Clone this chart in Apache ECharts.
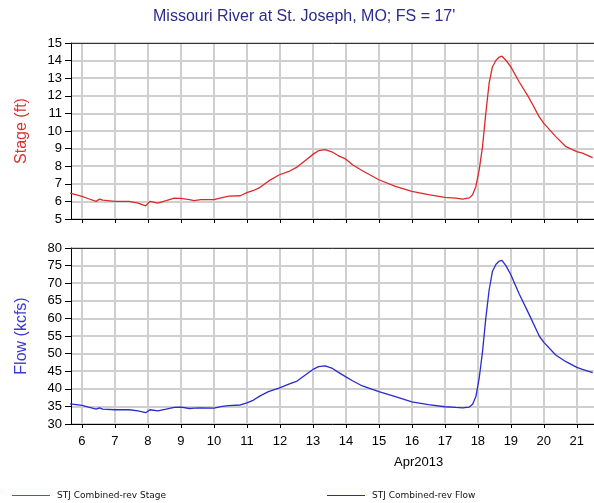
<!DOCTYPE html>
<html>
<head>
<meta charset="utf-8">
<script src="https://cdn.jsdelivr.net/npm/echarts@6/dist/echarts.min.js"></script>
<style>
  html, body { margin: 0; padding: 0; background: #fff; }
  #chart { width: 594px; height: 503px; }
</style>
</head>
<body>
<div id="chart"></div>
<script>
// day of April 2013 (fractional), shared by both series
const days = [5.64, 6.0, 6.2, 6.43, 6.53, 6.63, 7.0, 7.43, 7.7, 7.93, 8.06, 8.3, 8.55, 8.8, 9.0,
  9.26, 9.4, 9.6, 10.0, 10.25, 10.45, 10.8, 11.0, 11.2, 11.4, 11.65, 11.97, 12.27, 12.52, 12.77,
  13.02, 13.17, 13.37, 13.57, 13.75, 14.0, 14.2, 14.5, 15.0, 15.5, 16.0, 16.5, 17.0, 17.33, 17.54,
  17.74, 17.84, 17.94, 18.04, 18.14, 18.24, 18.34, 18.44, 18.55, 18.65, 18.73, 18.85, 19.0, 19.25,
  19.56, 19.86, 20.0, 20.36, 20.67, 21.0, 21.17, 21.48]

const stage = [6.47, 6.28, 6.15, 6.0, 6.13, 6.07, 6.0, 6.0, 5.9, 5.75, 6.0, 5.9, 6.04, 6.19, 6.17,
  6.1, 6.04, 6.1, 6.1, 6.22, 6.3, 6.32, 6.5, 6.62, 6.8, 7.15, 7.5, 7.7, 7.95, 8.33,
  8.7, 8.88, 8.94, 8.82, 8.62, 8.4, 8.08, 7.74, 7.23, 6.85, 6.57, 6.38, 6.23, 6.19, 6.13,
  6.2, 6.38, 6.85, 7.79, 9.1, 11.0, 12.7, 13.64, 14.02, 14.2, 14.25, 14.02, 13.64, 12.8,
  11.85, 10.8, 10.43, 9.68, 9.11, 8.83, 8.74, 8.49]

const flow = [35.7, 35.3, 34.8, 34.25, 34.6, 34.25, 34.05, 34.05, 33.7, 33.2, 34.05, 33.7, 34.2, 34.75, 34.8,
  34.4, 34.5, 34.6, 34.5, 35.0, 35.2, 35.4, 36.0, 36.8, 38.0, 39.2, 40.2, 41.3, 42.2, 43.9,
  45.6, 46.3, 46.5, 45.9, 44.8, 43.4, 42.3, 40.8, 39.2, 37.8, 36.3, 35.5, 34.9, 34.7, 34.6,
  34.8, 35.6, 37.8, 43.0, 50.5, 60.0, 68.0, 73.3, 75.4, 76.3, 76.5, 75.0, 72.4, 67.0,
  61.0, 55.0, 53.2, 49.6, 47.7, 46.1, 45.5, 44.6]

const dayTicks = [6, 7, 8, 9, 10, 11, 12, 13, 14, 15, 16, 17, 18, 19, 20, 21]

const xMin = 5.667
const xMax = 21.52
const fontName = 'Liberation Sans'
const gridColor = '#cfcfcf'

const chart = echarts.init(document.getElementById('chart'))

function bottomAxis(gridIndex, showLabels) {
  return {
    type: 'value',
    gridIndex,
    min: xMin,
    max: xMax,
    position: 'bottom',
    axisLine: { show: true, onZero: false, lineStyle: { color: '#000', width: 1 } },
    axisTick: { show: true, length: 4, customValues: dayTicks, lineStyle: { color: '#000' } },
    axisLabel: {
      show: showLabels,
      customValues: dayTicks,
      margin: 11,
      color: '#000',
      fontFamily: fontName,
      fontSize: 13,
      formatter: v => String(Math.round(v))
    },
    splitLine: { show: true, lineStyle: { color: gridColor, width: 2 } }
  }
}

function topBorder(gridIndex) {
  return {
    type: 'value',
    gridIndex,
    min: xMin,
    max: xMax,
    position: 'top',
    axisLine: { show: true, onZero: false, lineStyle: { color: '#333', width: 1 } },
    axisTick: { show: false },
    axisLabel: { show: false },
    splitLine: { show: false }
  }
}

function leftAxis(gridIndex, min, max, interval, name, nameColor) {
  return {
    type: 'value',
    gridIndex,
    min,
    max,
    interval,
    name,
    nameLocation: 'middle',
    nameGap: 41,
    nameTextStyle: { color: nameColor, fontFamily: fontName, fontSize: 16 },
    axisLine: { show: true, onZero: false, lineStyle: { color: '#000', width: 1 } },
    axisTick: { show: true, length: 6, lineStyle: { color: '#000' } },
    axisLabel: { margin: 9, color: '#000', fontFamily: fontName, fontSize: 13 },
    splitLine: { show: true, lineStyle: { color: gridColor, width: 2 } }
  }
}

chart.setOption({
  animation: false,
  backgroundColor: '#fff',
  title: {
    text: "Missouri River at St. Joseph, MO; FS = 17'",
    left: 153,
    top: 9,
    padding: 0,
    textStyle: { color: '#2b2b8c', fontFamily: fontName, fontSize: 16, fontWeight: 'normal' }
  },
  legend: [
    {
      data: ['STJ Combined-rev Stage'],
      left: 12,
      top: 491,
      padding: 0,
      icon: 'rect',
      itemWidth: 38,
      itemHeight: 1,
      textStyle: { color: '#111', fontFamily: 'DejaVu Sans', fontSize: 9, padding: [0, 0, 0, 2] }
    },
    {
      data: ['STJ Combined-rev Flow'],
      left: 327,
      top: 491,
      padding: 0,
      icon: 'rect',
      itemWidth: 38,
      itemHeight: 1,
      textStyle: { color: '#111', fontFamily: 'DejaVu Sans', fontSize: 9, padding: [0, 0, 0, 2] }
    }
  ],
  grid: [
    { left: 71, top: 43, width: 523, height: 176 },
    { left: 71, top: 248, width: 523, height: 176 }
  ],
  xAxis: [
    bottomAxis(0, false),
    bottomAxis(1, true),
    topBorder(0),
    topBorder(1)
  ],
  yAxis: [
    leftAxis(0, 5, 15, 1, 'Stage (ft)', '#d93030'),
    leftAxis(1, 30, 80, 5, 'Flow (kcfs)', '#3a3ad0')
  ],
  graphic: [
    {
      type: 'text',
      left: 394,
      top: 456,
      style: { text: 'Apr2013', fill: '#000', font: '13px "Liberation Sans"' }
    }
  ],
  series: [
    {
      name: 'STJ Combined-rev Stage',
      type: 'line',
      xAxisIndex: 0,
      yAxisIndex: 0,
      showSymbol: false,
      color: '#e02828',
      lineStyle: { width: 1.3, color: '#e02828' },
      data: days.map((d, i) => [d, stage[i]])
    },
    {
      name: 'STJ Combined-rev Flow',
      type: 'line',
      xAxisIndex: 1,
      yAxisIndex: 1,
      showSymbol: false,
      color: '#2a2ad0',
      lineStyle: { width: 1.3, color: '#2a2ad0' },
      data: days.map((d, i) => [d, flow[i]])
    }
  ]
})
</script>
</body>
</html>
